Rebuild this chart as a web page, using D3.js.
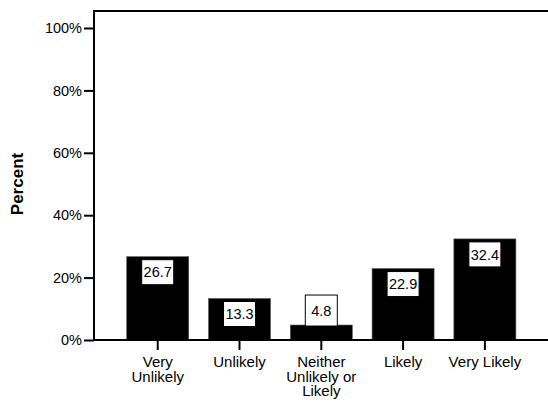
<!DOCTYPE html>
<html><head><meta charset="utf-8">
<script src="https://cdn.jsdelivr.net/npm/d3@7"></script>
<style>body{margin:0;background:#fff}svg{display:block}text{font-family:"Liberation Sans",Arial,sans-serif}</style>
</head><body>
<script>
const categories = [["Very","Unlikely"],["Unlikely"],["Neither","Unlikely or","Likely"],["Likely"],["Very Likely"]];
const keys = ["Very Unlikely","Unlikely","Neither Unlikely or Likely","Likely","Very Likely"];
const values = [26.7, 13.3, 4.8, 22.9, 32.4];
const yTicks = [0,20,40,60,80,100];
const yTickLabels = ["0%","20%","40%","60%","80%","100%"];

(function(){
const W=548,H=402;
const svg=d3.select("body").append("svg").attr("width",W).attr("height",H);
const pLeft=94, pTop=11, pBottom=340, pRight=548.6;
const x=d3.scaleBand().domain(keys).range([pLeft,pRight]).paddingInner(0.242).paddingOuter(0.4);
const y=d3.scaleLinear().domain([0,105.45]).range([pBottom,pTop]);

// bars
svg.selectAll("rect.bar").data(values).join("rect").attr("class","bar")
  .attr("x",(d,i)=>x(keys[i])).attr("width",x.bandwidth())
  .attr("y",d=>y(d)).attr("height",d=>pBottom-y(d))
  .attr("fill","#000").attr("stroke","#555").attr("stroke-width",0.6);

// value labels
const bw=32, bh=25;
values.forEach((d,i)=>{
  const cx=x(keys[i])+x.bandwidth()/2;
  const bt=y(d);
  const inside=(pBottom-bt)>bh+6;
  const by= inside? bt+3 : bt-30;
  const hh= inside? bh : 31;
  svg.append("rect").attr("x",cx-bw/2).attr("y",by).attr("width",bw).attr("height",hh)
    .attr("fill","#fff").attr("stroke","#000").attr("stroke-width",1);
  svg.append("text").attr("x",cx).attr("y",by+hh/2).attr("dy","0.36em")
    .attr("text-anchor","middle").attr("font-size",14.5).text(d.toFixed(1));
});

// frame lines
svg.append("line").attr("x1",pLeft).attr("x2",W).attr("y1",pTop).attr("y2",pTop).attr("stroke","#000").attr("stroke-width",2);
svg.append("line").attr("x1",pLeft).attr("x2",W).attr("y1",pBottom).attr("y2",pBottom).attr("stroke","#000").attr("stroke-width",2);
svg.append("line").attr("x1",pLeft).attr("x2",pLeft).attr("y1",pTop-1).attr("y2",pBottom+1).attr("stroke","#000").attr("stroke-width",2);

// y axis
const ya=svg.append("g").attr("transform",`translate(${pLeft},0)`)
  .call(d3.axisLeft(y).tickValues(yTicks).tickSize(10).tickPadding(2).tickFormat((d,i)=>yTickLabels[i]));
ya.select(".domain").remove();
ya.selectAll(".tick line").attr("stroke","#000").attr("stroke-width",2);
ya.selectAll(".tick text").attr("font-size",14.5).attr("font-family","Liberation Sans, Arial").attr("fill","#000");

// x axis
const xa=svg.append("g").attr("transform",`translate(0,${pBottom})`)
  .call(d3.axisBottom(x).tickSize(10).tickFormat(""));
xa.select(".domain").remove();
xa.selectAll(".tick line").attr("stroke","#000").attr("stroke-width",2);
xa.selectAll(".tick").each(function(d,i){
  const t=d3.select(this).append("text").attr("fill","#000").attr("font-size",15)
    .attr("font-family","Liberation Sans, Arial").attr("text-anchor","middle");
  categories[i].forEach((s,j)=>t.append("tspan").attr("x",0).attr("y",27+j*14.6).text(s));
});

// y title
svg.append("text").attr("transform","translate(23,184) rotate(-90)").attr("text-anchor","middle")
  .attr("font-size",17).attr("font-weight","bold").text("Percent");
})();
</script>
</body></html>
